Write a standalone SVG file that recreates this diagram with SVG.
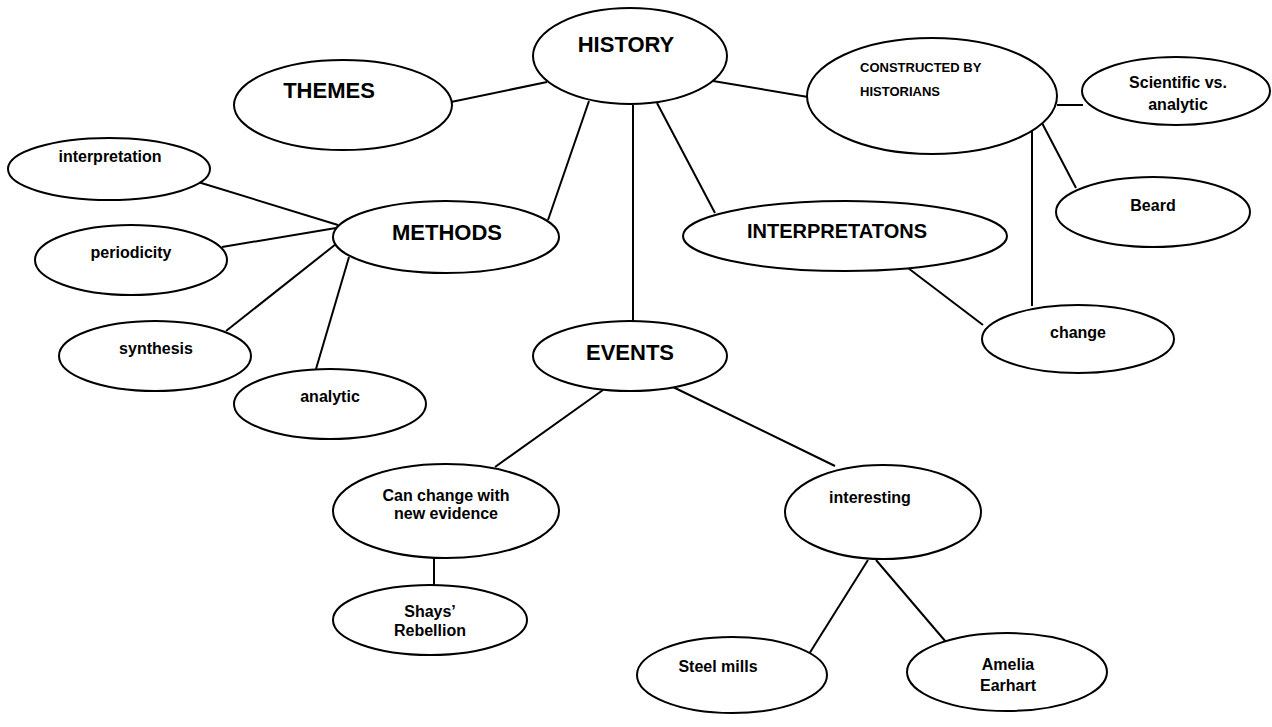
<svg xmlns="http://www.w3.org/2000/svg" width="1272" height="727" viewBox="0 0 1272 727">
<style>
.n ellipse{fill:#fff;stroke:#000;stroke-width:2}
.c line{stroke:#000;stroke-width:2}
text{font-family:"Liberation Sans",Arial,sans-serif;font-weight:bold;fill:#000;text-anchor:middle}
.big{font-size:22px}
.sm{font-size:16px}
.cal{font-size:13px;text-anchor:start}
</style>
<rect width="1272" height="727" fill="#fff"/>
<g id="connectors" class="c">
<line x1="451" y1="102" x2="547" y2="82"/>
<line x1="713" y1="81" x2="808" y2="97"/>
<line x1="589" y1="101" x2="548" y2="220"/>
<line x1="633" y1="105" x2="633" y2="321"/>
<line x1="657" y1="103" x2="715" y2="213"/>
<line x1="1057" y1="105" x2="1083" y2="105"/>
<line x1="1042" y1="123" x2="1076" y2="188"/>
<line x1="1032" y1="128" x2="1032" y2="306"/>
<line x1="908" y1="268" x2="983" y2="325"/>
<line x1="198" y1="182" x2="338" y2="225"/>
<line x1="222" y1="247" x2="336" y2="228"/>
<line x1="226" y1="331" x2="336" y2="244"/>
<line x1="316" y1="369" x2="349" y2="257"/>
<line x1="603" y1="390" x2="495" y2="467"/>
<line x1="673" y1="387" x2="835" y2="466"/>
<line x1="434" y1="558" x2="434" y2="585"/>
<line x1="868" y1="560" x2="809" y2="654"/>
<line x1="876" y1="560" x2="946" y2="642"/>
</g>
<g id="history" class="n"><ellipse cx="630" cy="56" rx="97" ry="48"/><text class="big" x="626" y="52">HISTORY</text></g>
<g id="themes" class="n"><ellipse cx="343" cy="105" rx="109" ry="45"/><text class="big" x="329" y="98">THEMES</text></g>
<g id="constructed" class="n"><ellipse cx="932" cy="96" rx="125" ry="58"/><text class="cal" x="860" y="72">CONSTRUCTED BY</text><text class="cal" x="860" y="96">HISTORIANS</text></g>
<g id="scientific" class="n"><ellipse cx="1176" cy="91" rx="94" ry="34"/><text class="sm" x="1178" y="88">Scientific vs.</text><text class="sm" x="1178" y="110">analytic</text></g>
<g id="beard" class="n"><ellipse cx="1153" cy="212" rx="97" ry="35"/><text class="sm" x="1153" y="211">Beard</text></g>
<g id="interpretatons" class="n"><ellipse cx="845" cy="236" rx="162" ry="35"/><text style="font-size:20px" x="837" y="238">INTERPRETATONS</text></g>
<g id="change" class="n"><ellipse cx="1078" cy="339" rx="96" ry="34"/><text class="sm" x="1078" y="338">change</text></g>
<g id="methods" class="n"><ellipse cx="446" cy="237" rx="113" ry="36"/><text class="big" x="447" y="240">METHODS</text></g>
<g id="interpretation" class="n"><ellipse cx="109" cy="169" rx="101" ry="31"/><text class="sm" x="110" y="162">interpretation</text></g>
<g id="periodicity" class="n"><ellipse cx="131" cy="260" rx="96" ry="35"/><text class="sm" x="131" y="258">periodicity</text></g>
<g id="synthesis" class="n"><ellipse cx="155" cy="356" rx="96" ry="35"/><text class="sm" x="156" y="354">synthesis</text></g>
<g id="analytic" class="n"><ellipse cx="330" cy="404" rx="96" ry="35"/><text class="sm" x="330" y="402">analytic</text></g>
<g id="events" class="n"><ellipse cx="630" cy="356" rx="97" ry="35"/><text class="big" x="630" y="360">EVENTS</text></g>
<g id="canchange" class="n"><ellipse cx="446" cy="511" rx="113" ry="47"/><text class="sm" x="446" y="501">Can change with</text><text class="sm" x="446" y="519">new evidence</text></g>
<g id="shays" class="n"><ellipse cx="430" cy="620" rx="97" ry="35"/><text class="sm" x="430" y="617">Shays’</text><text class="sm" x="430" y="636">Rebellion</text></g>
<g id="interesting" class="n"><ellipse cx="883" cy="512" rx="98" ry="47"/><text class="sm" x="870" y="503">interesting</text></g>
<g id="steel" class="n"><ellipse cx="732" cy="675" rx="95" ry="38"/><text class="sm" x="718" y="672">Steel mills</text></g>
<g id="amelia" class="n"><ellipse cx="1007" cy="672" rx="100" ry="39"/><text class="sm" x="1008" y="670">Amelia</text><text class="sm" x="1008" y="691">Earhart</text></g>
</svg>
